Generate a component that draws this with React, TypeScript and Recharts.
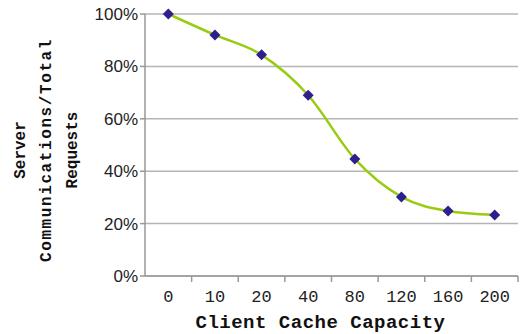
import { LineChart, Line, XAxis, YAxis, CartesianGrid } from "recharts";

const capacities = ["0", "10", "20", "40", "80", "120", "160", "200"];
const serverRatio = [100, 92, 84.4, 69, 44.7, 30.2, 24.8, 23.3];
const yTicks = [0, 20, 40, 60, 80, 100];

const data = capacities.map((c, i) => ({ capacity: c, ratio: serverRatio[i] }));

const monoFont = "'Liberation Mono', 'DejaVu Sans Mono', monospace";

// x ticks: label under the point, tick mark on the band's right edge
function CapacityTick(props: any) {
  const { x, y, payload } = props;
  const edge = x + (payload.offset || 0);
  return (
    <g>
      <line x1={edge} y1={y - 8} x2={edge} y2={y - 2} stroke="#999" strokeWidth={1.5} />
      <text x={x} y={y + 18} textAnchor="middle" fontFamily={monoFont} fontSize={17} fill="#222">
        {payload.value}
      </text>
    </g>
  );
}

function Diamond(props: any) {
  const { cx, cy } = props;
  if (cx == null || cy == null) return null;
  const r = 5.5;
  return (
    <polygon
      points={`${cx},${cy - r} ${cx + r},${cy} ${cx},${cy + r} ${cx - r},${cy}`}
      fill="#2e1f8f"
    />
  );
}

function YTitle() {
  return (
    <text
      transform="translate(25,150) rotate(-90)"
      textAnchor="middle"
      fontFamily={monoFont}
      fontWeight="bold"
      fontSize={16}
      fill="#111"
    >
      <tspan x={0} dy={0}>Server</tspan>
      <tspan x={0} dy={26} letterSpacing={1.6}>Communications/Total</tspan>
      <tspan x={0} dy={26}>Requests</tspan>
    </text>
  );
}

function XTitle(props: any) {
  const { viewBox } = props;
  const cx = viewBox.x + viewBox.width / 2 - 11;
  return (
    <text
      x={cx}
      y={viewBox.y + viewBox.height - 6}
      textAnchor="middle"
      fontFamily={monoFont}
      fontWeight="bold"
      fontSize={19}
      letterSpacing={0.5}
      fill="#111"
    >
      Client Cache Capacity
    </text>
  );
}

export default function App() {
  return (
    <div style={{ position: "absolute", left: 0, top: 0, background: "#fff" }}>
      <LineChart
        width={520}
        height={334}
        data={data}
        margin={{ top: 14, right: 2, bottom: 0, left: 0 }}
      >
        <CartesianGrid vertical={false} stroke="#b5b5b5" strokeWidth={1.5} />
        <XAxis
          dataKey="capacity"
          scale="band"
          height={58}
          stroke="#999"
          strokeWidth={1.5}
          tickLine={false}
          tick={<CapacityTick />}
          interval={0}
          label={<XTitle />}
        />
        <YAxis
          width={145}
          domain={[0, 100]}
          ticks={yTicks}
          tickFormatter={(v: number) => `${v}%`}
          stroke="#999"
          strokeWidth={1.5}
          tickSize={5}
          tick={{ fontFamily: "'Liberation Sans', Arial, sans-serif", fontSize: 17, fill: "#222" }}
          label={<YTitle />}
        />
        <Line
          type="monotone"
          dataKey="ratio"
          stroke="#99cc11"
          strokeWidth={2.5}
          dot={<Diamond />}
          activeDot={false}
          isAnimationActive={false}
        />
      </LineChart>
    </div>
  );
}
